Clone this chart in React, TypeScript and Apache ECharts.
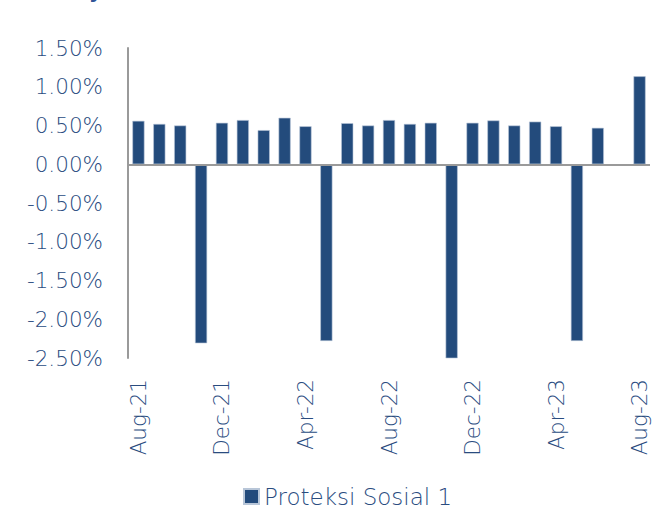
import React, { useEffect, useRef } from "react";
import * as echarts from "echarts";

const categories = [
  "Aug-21", "Sep-21", "Oct-21", "Nov-21", "Dec-21", "Jan-22", "Feb-22", "Mar-22", "Apr-22",
  "May-22", "Jun-22", "Jul-22", "Aug-22", "Sep-22", "Oct-22", "Nov-22", "Dec-22", "Jan-23",
  "Feb-23", "Mar-23", "Apr-23", "May-23", "Jun-23", "Jul-23", "Aug-23",
];
const values: (number | null)[] = [
  0.56, 0.52, 0.5, -2.31, 0.535, 0.57, 0.44, 0.6, 0.49,
  -2.28, 0.53, 0.5, 0.57, 0.52, 0.535, -2.55, 0.535, 0.565,
  0.5, 0.55, 0.49, -2.28, 0.47, null, 1.135,
];
const seriesName = "Proteksi Sosial 1";

const textColor = "#2A4C7F";
const barColor = "#234B7C";
const font = "'DejaVu Sans', sans-serif";
const weight = 200;

export default function App() {
  const ref = useRef<HTMLDivElement>(null);
  useEffect(() => {
    if (!ref.current) return;
    const chart = echarts.init(ref.current, undefined, { renderer: "svg" });
    chart.setOption({
      animation: false,
      backgroundColor: "#ffffff",
      grid: { left: 128, right: 8, top: 48, bottom: 156, containLabel: false },
      graphic: [
        {
          type: "text",
          left: 89,
          top: -19,
          style: { text: "y", fill: "#2F5597", fontSize: 20, fontWeight: "bold", fontFamily: font },
        },
      ],
      legend: {
        bottom: 1,
        left: 238,
        itemWidth: 15,
        itemHeight: 15,
        itemGap: 6,
        icon: "rect",
        textStyle: { color: textColor, fontSize: 23, fontFamily: font, fontWeight: weight },
        data: [seriesName],
      },
      xAxis: {
        type: "category",
        data: categories,
        axisLine: { show: false, onZero: false },
        axisTick: { show: false },
        axisLabel: {
          interval: 3,
          rotate: 90,
          margin: 21,
          color: textColor,
          fontSize: 21.5,
          fontFamily: font,
          fontWeight: weight,
        },
      },
      yAxis: {
        type: "value",
        min: -2.5,
        max: 1.5,
        interval: 0.5,
        axisLine: { show: true, lineStyle: { color: "#9a9a9a", width: 2 } },
        axisTick: { show: false },
        splitLine: { show: false },
        axisLabel: {
          margin: 25,
          color: textColor,
          fontSize: 21.5,
          fontFamily: font,
          fontWeight: weight,
          formatter: (v: number) => v.toFixed(2) + "%",
        },
      },
      series: [
        {
          name: seriesName,
          type: "bar",
          data: values,
          barCategoryGap: "42%",
          itemStyle: { color: barColor, borderColor: "#b8c6d8", borderWidth: 0.6 },
          markLine: {
            silent: true,
            symbol: "none",
            label: { show: false },
            lineStyle: { color: "#9a9a9a", width: 2, type: "solid" },
            data: [{ yAxis: 0 }],
          },
        },
      ],
    });
    return () => chart.dispose();
  }, []);
  return (
    <div
      ref={ref}
      style={{ position: "fixed", left: 0, top: 0, width: 658, height: 514 }}
    />
  );
}
